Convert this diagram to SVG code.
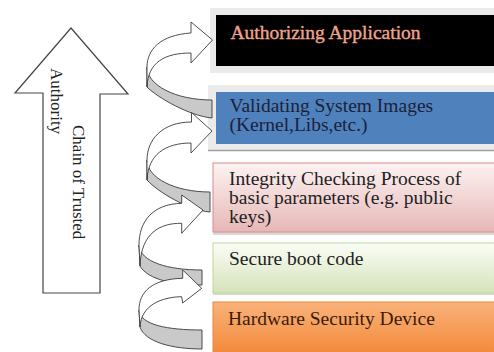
<svg xmlns="http://www.w3.org/2000/svg" width="494" height="352" viewBox="0 0 494 352">
  <defs>
    <linearGradient id="gPink" x1="0" y1="0" x2="0" y2="1">
      <stop offset="0" stop-color="#fdf3f3"/>
      <stop offset="1" stop-color="#e6b7b6"/>
    </linearGradient>
    <linearGradient id="gGreen" x1="0" y1="0" x2="0" y2="1">
      <stop offset="0" stop-color="#fbfdf6"/>
      <stop offset="1" stop-color="#d5e3ba"/>
    </linearGradient>
    <linearGradient id="gOrange" x1="0" y1="0" x2="0" y2="1">
      <stop offset="0" stop-color="#f9b27a"/>
      <stop offset="1" stop-color="#f3893a"/>
    </linearGradient>
    <style>
      .lbl { font-family: "Liberation Serif", "Times New Roman", serif; font-size: 19.5px; fill: #222; }
      .vert { font-family: "Liberation Serif", "Times New Roman", serif; font-size: 17px; fill: #222; }
      .frame { fill: #ebebeb; }
      .back { fill: #c9c9c9; stroke: #3a3a3a; stroke-width: 0.9; stroke-linejoin: round; }
      .front { fill: #ffffff; stroke: #3a3a3a; stroke-width: 0.9; stroke-linejoin: round; }
    </style>
  </defs>

  <rect width="494" height="352" fill="#ffffff"/>

  <!-- Chain of trust arrow -->
  <g id="trust-arrow">
    <path d="M71,28 L128,94 L100,94 L100,293 L43,293 L43,93 L15,93 Z" fill="#ffffff" stroke="#444" stroke-width="1.2" stroke-linejoin="miter"/>
    <text class="vert" transform="translate(72.5,125) rotate(90)">Chain of Trusted</text>
    <text class="vert" transform="translate(50.5,68) rotate(90)">Authority</text>
  </g>

  <!-- Layer boxes -->
  <g id="authorizing-application">
    <rect class="frame" x="210" y="8" width="284" height="65"/>
    <rect x="216" y="15" width="278" height="51" fill="#000"/>
    <text class="lbl" x="230.5" y="38.5" style="fill:#f0a38e; stroke:#f0a38e; stroke-width:0.4">Authorizing Application</text>
  </g>

  <g id="validating-system-images">
    <rect class="frame" x="208" y="85" width="286" height="66"/>
    <line x1="208" y1="150.5" x2="494" y2="150.5" stroke="#a0a0a0" stroke-width="1.5"/>
    <rect x="216" y="92" width="278" height="52" fill="#4f81bd"/>
    <text class="lbl" x="229.5" y="112" style="fill:#1c1f3a">Validating System Images</text>
    <text class="lbl" x="229.5" y="131" style="fill:#1c1f3a">(Kernel,Libs,etc.)</text>
  </g>

  <g id="integrity-checking">
    <rect x="213" y="165" width="281" height="70" fill="#d8d8d8"/>
    <rect x="213" y="163" width="282" height="69" fill="url(#gPink)" stroke="#d98a89" stroke-width="1"/>
    <text class="lbl" x="229" y="185">Integrity Checking Process of</text>
    <text class="lbl" x="229" y="204">basic parameters (e.g. public</text>
    <text class="lbl" x="229" y="223">keys)</text>
  </g>

  <g id="secure-boot-code">
    <rect x="213" y="245" width="281" height="50" fill="#d8d8d8"/>
    <rect x="213" y="243" width="282" height="50" fill="url(#gGreen)" stroke="#c2d59e" stroke-width="1"/>
    <text class="lbl" x="229" y="265">Secure boot code</text>
  </g>

  <g id="hardware-security-device">
    <rect x="213" y="302" width="282" height="52" fill="url(#gOrange)" stroke="#e5873c" stroke-width="1"/>
    <text class="lbl" x="228" y="325" style="fill:#3a1c0c">Hardware Security Device</text>
  </g>

  <!-- Helical connectors: back (grey) half first, then front arrows -->
  <g id="connectors">
    <path class="back" d="M147,67 C147,85 175,100 212,100 L212,118 C190,116 158,98 147,87 Z"/>
    <path class="back" d="M147,160 C147,178 175,192 210,192 L210,212 C188,210 158,192 147,180 Z"/>
    <path class="back" d="M139,245 C140,262 168,270 202,270 L202,285 C175,285 148,280 140,266 Z"/>
    <path class="back" d="M139,310 C140,325 168,330 202,330 L202,349 C172,349 145,342 140,327 Z"/>

    <path class="front" d="M147,67 C147,50 160,35 191,33 L191,22 L212.5,40 L191,63 L191,53 C165,53 148,62 147,87 Z"/>
    <path class="front" d="M147,160 C147,140 162,122 191.5,122 L191.5,112.5 L212,131 L191,153 L191,143 C165,143 148,155 147,180 Z"/>
    <path class="front" d="M139,245 C139,222 152,204 181.7,203.3 L181.7,195 L203,210 L181.7,233.3 L181.7,223.3 C160,223 141,233 140,266 Z"/>
    <path class="front" d="M139,310 C139,292 152,279 182.7,278.3 L182.7,270 L201.7,288.3 L182.7,303 L181.7,296.7 C162,297 141,305 140,327 Z"/>
  </g>
</svg>
